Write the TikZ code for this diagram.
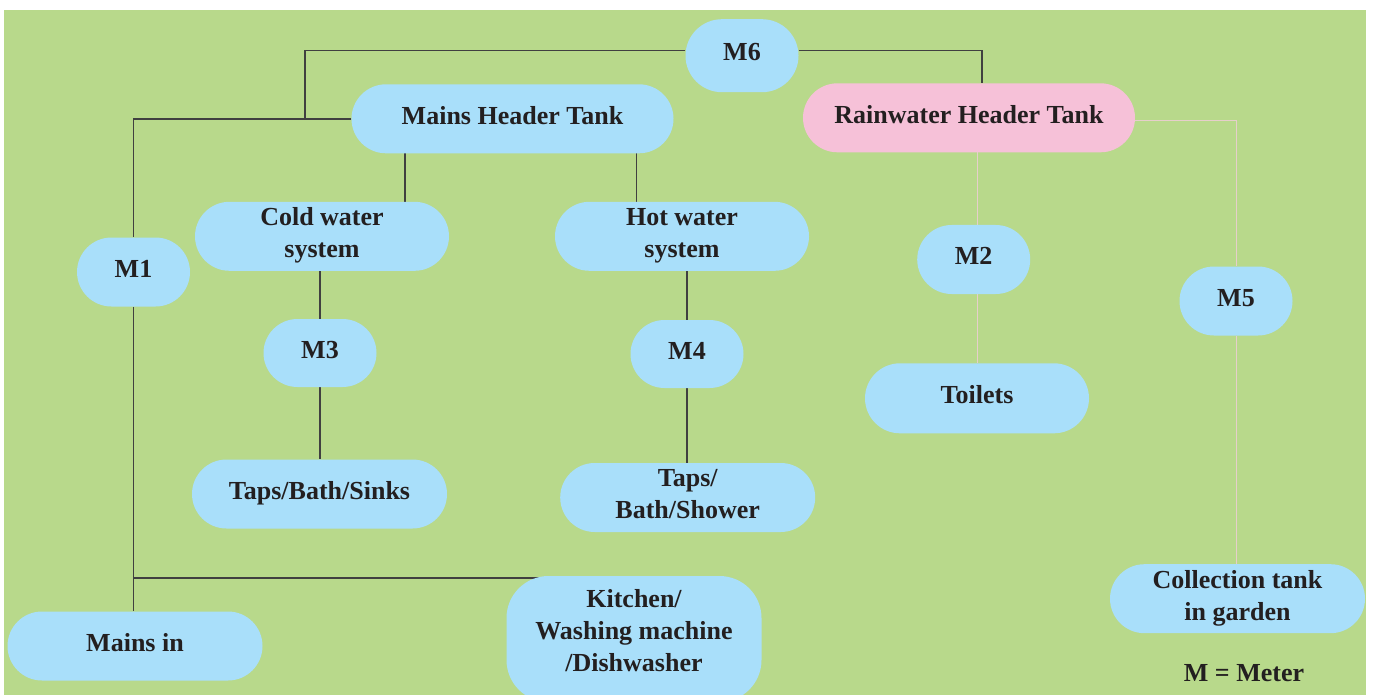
\documentclass[tikz,border=0pt]{standalone}
\usepackage{fontspec}
\setmainfont{Liberation Serif}
\usetikzlibrary{backgrounds}
\definecolor{bggreen}{HTML}{B8D98B}
\definecolor{boxblue}{HTML}{A9DFFA}
\definecolor{boxpink}{HTML}{F6C1D8}
\definecolor{linedark}{HTML}{404040}
\definecolor{linelight}{HTML}{E6CFCB}
\definecolor{txt}{HTML}{231F20}
\begin{document}
\begin{tikzpicture}[x=1pt,y=-1pt,
  pill/.style={rectangle, fill=boxblue, minimum width=#1, minimum height=69pt,
    rounded corners=34.5pt, inner sep=0pt, align=center, text=txt,
    font=\fontsize{26}{31.7}\selectfont\bfseries, text depth=7pt},
  meter/.style={pill=113pt},
  dark/.style={draw=linedark, line width=1.5pt},
  light/.style={draw=linelight, line width=1pt},
  legendtext/.style={text=txt, font=\fontsize{26}{31.7}\selectfont\bfseries, inner sep=0pt}]
\useasboundingbox (0,0) rectangle (1373,695);
% nodes
\node[meter, minimum height=73pt, rounded corners=36.5pt] (M6) at (742,55.7) {M6};
\node[pill=322pt] (MHT) at (512.5,118.8) {Mains Header Tank};
\node[pill=332pt, fill=boxpink] (RHT) at (969,117.8) {Rainwater Header Tank};
\node[pill=254pt] (cold) at (322,236.3) {Cold water\\system};
\node[pill=254pt] (hot) at (682,236.3) {Hot water\\system};
\node[meter] (M1) at (133.5,272) {M1};
\node[meter, minimum height=68pt, rounded corners=34pt] (M3) at (320,353) {M3};
\node[meter, minimum height=68pt, rounded corners=34pt] (M4) at (687,354) {M4};
\node[meter] (M2) at (973.7,259.5) {M2};
\node[meter] (M5) at (1236,301) {M5};
\node[pill=224pt, minimum height=70pt, rounded corners=35pt] (toilets) at (977,398.3) {Toilets};
\node[pill=255pt] (TBS) at (319.5,494) {Taps/Bath/Sinks};
\node[pill=255pt] (TBSh) at (687.7,497.5) {Taps/\\Bath/Shower};
\node[pill=255pt] (coll) at (1237.5,598.7) {Collection tank\\in garden};
\node[pill=255pt] (mainsin) at (135,646) {Mains in};
\node[pill=255pt, minimum height=126pt, rounded corners=42pt, text depth=17pt] (kitchen) at (634,639) {Kitchen/\\Washing machine\\/Dishwasher};
\node[legendtext, anchor=base] (legend) at (1244,681.7) {M = Meter};
% connectors
\coordinate (jA) at (305,119);
\coordinate (jB) at (133.5,578);
\coordinate (cA) at ([xshift=83pt]cold.north);
\coordinate (hA) at ([xshift=-45.5pt]hot.north);
\coordinate (rA) at ([xshift=13pt]RHT.north);
\coordinate (kA) at ([xshift=33pt]kitchen.west |- jB);
\begin{scope}[on background layer]
  \fill[bggreen] (4,10) rectangle (1366,695);
  \draw[dark] ([yshift=5pt]M6.west) -| (jA);
  \draw[dark] ([yshift=5pt]M6.east) -| (rA);
  \draw[dark] (MHT.west) -| (M1.north);
  \draw[dark] (M1.south) -- (M1.south |- mainsin.north);
  \draw[dark] (jB) -- (kA);
  \draw[dark] (cA) -- (cA |- MHT.south);
  \draw[dark] (hA) -- (hA |- MHT.south);
  \draw[dark] (M3.north) -- (M3.north |- cold.south);
  \draw[dark] (M3.south) -- (M3.south |- TBS.north);
  \draw[dark] (M4.north) -- (M4.north |- hot.south);
  \draw[dark] (M4.south) -- (M4.south |- TBSh.north);
  \draw[light] (toilets.north |- RHT.south) -- (toilets.north |- M2.north);
  \draw[light] (toilets.north |- M2.south) -- (toilets.north);
  \draw[light] ([yshift=-2.5pt]RHT.east) -| (M5.north);
  \draw[light] (M5.south) -- (M5.south |- coll.north);
\end{scope}
\end{tikzpicture}
\end{document}
